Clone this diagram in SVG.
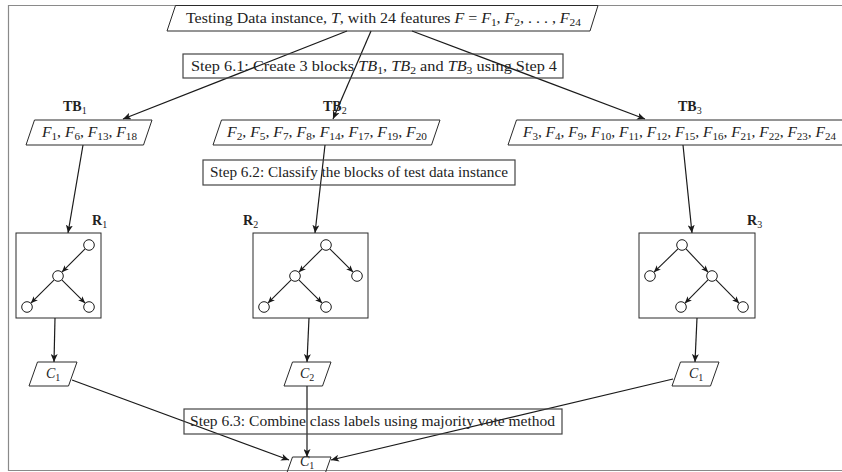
<svg xmlns="http://www.w3.org/2000/svg" width="842" height="472" viewBox="0 0 842 472">
  <defs>
    <marker id="arr" markerUnits="userSpaceOnUse" markerWidth="9" markerHeight="7" refX="8" refY="3.5" orient="auto">
      <path d="M0,0 L8,3.5 L0,7 L2,3.5 z" fill="#1a1a1a"/>
    </marker>
    <marker id="arr-s" markerUnits="userSpaceOnUse" markerWidth="8" markerHeight="6" refX="7" refY="3" orient="auto">
      <path d="M0,0 L7,3 L0,6 L1.8,3 z" fill="#1a1a1a"/>
    </marker>
  </defs>
  <style>
    .frame { fill: none; stroke: #8a8a8a; stroke-width: 1.2; }
    .shape { fill: none; stroke: #2a2a2a; stroke-width: 1; }
    .step { fill: none; stroke: #444; stroke-width: 1.2; }
    .conn { fill: none; stroke: #1a1a1a; stroke-width: 1.2; marker-end: url(#arr); }
    .edge { fill: none; stroke: #1a1a1a; stroke-width: 1.1; marker-end: url(#arr-s); }
    .node { fill: #fff; stroke: #1a1a1a; stroke-width: 1; }
    text { font-family: "Liberation Serif", "DejaVu Serif", serif; font-size: 14px; fill: #222; }
    .it { font-style: italic; }
    .bf { font-weight: bold; }
  </style>

  <!-- outer frame (left, top, bottom rules) -->
  <path class="frame" d="M842,5.5 H8.5 V470.5 H842"/>

  <!-- connectors -->
  <g id="connectors">
    <line class="conn" x1="347" y1="31" x2="123" y2="119"/>
    <line class="conn" x1="371" y1="31" x2="333" y2="119"/>
    <line class="conn" x1="412" y1="31" x2="645" y2="119"/>
    <line class="conn" x1="83" y1="145" x2="68" y2="233"/>
    <line class="conn" x1="325" y1="145" x2="315" y2="233"/>
    <line class="conn" x1="683" y1="145" x2="692" y2="233"/>
    <line class="conn" x1="55" y1="318" x2="54" y2="362"/>
    <line class="conn" x1="309" y1="318" x2="307" y2="362"/>
    <line class="conn" x1="697" y1="318" x2="695" y2="362"/>
    <line class="conn" x1="307" y1="386" x2="307" y2="457"/>
    <line class="conn" x1="72" y1="380" x2="289" y2="460"/>
    <line class="conn" x1="673" y1="379" x2="331" y2="460"/>
  </g>

  <!-- test instance -->
  <g id="instance">
    <path class="shape" d="M167,31 L175.5,5.5 L598,5.5 L590,31 Z"/>
    <text x="186" y="23" textLength="395" lengthAdjust="spacingAndGlyphs">Testing Data instance, <tspan class="it">T</tspan>, with 24 features <tspan class="it">F</tspan> = <tspan class="it">F</tspan><tspan font-size="10" dy="3">1</tspan><tspan dy="-3">, </tspan><tspan class="it">F</tspan><tspan font-size="10" dy="3">2</tspan><tspan dy="-3">, . . . , </tspan><tspan class="it">F</tspan><tspan font-size="10" dy="3">24</tspan></text>
  </g>

  <!-- step 6.1 -->
  <g id="step61">
    <rect class="step" x="183" y="54" width="380" height="24"/>
    <text x="191" y="71" textLength="366" lengthAdjust="spacingAndGlyphs">Step 6.1: Create 3 blocks <tspan class="it">TB</tspan><tspan font-size="10" dy="3">1</tspan><tspan dy="-3">, </tspan><tspan class="it">TB</tspan><tspan font-size="10" dy="3">2</tspan><tspan dy="-3"> and </tspan><tspan class="it">TB</tspan><tspan font-size="10" dy="3">3</tspan><tspan dy="-3"> using Step 4</tspan></text>
  </g>

  <!-- block TB1 -->
  <g id="tb1">
    <text class="bf" x="63" y="111">TB<tspan font-size="10" font-weight="normal" dy="3">1</tspan></text>
    <path class="shape" d="M26,145 L34.5,120 L152,120 L143.5,145 Z"/>
    <text x="42" y="137" textLength="95" lengthAdjust="spacingAndGlyphs"><tspan class="it">F</tspan><tspan font-size="10" dy="3">1</tspan><tspan dy="-3">, </tspan><tspan class="it">F</tspan><tspan font-size="10" dy="3">6</tspan><tspan dy="-3">, </tspan><tspan class="it">F</tspan><tspan font-size="10" dy="3">13</tspan><tspan dy="-3">, </tspan><tspan class="it">F</tspan><tspan font-size="10" dy="3">18</tspan></text>
  </g>

  <!-- block TB2 -->
  <g id="tb2">
    <text class="bf" x="323" y="111">TB<tspan font-size="10" font-weight="normal" dy="3">2</tspan></text>
    <path class="shape" d="M213,145 L221.5,120 L440,120 L431.5,145 Z"/>
    <text x="227" y="137" textLength="200" lengthAdjust="spacingAndGlyphs"><tspan class="it">F</tspan><tspan font-size="10" dy="3">2</tspan><tspan dy="-3">, </tspan><tspan class="it">F</tspan><tspan font-size="10" dy="3">5</tspan><tspan dy="-3">, </tspan><tspan class="it">F</tspan><tspan font-size="10" dy="3">7</tspan><tspan dy="-3">, </tspan><tspan class="it">F</tspan><tspan font-size="10" dy="3">8</tspan><tspan dy="-3">, </tspan><tspan class="it">F</tspan><tspan font-size="10" dy="3">14</tspan><tspan dy="-3">, </tspan><tspan class="it">F</tspan><tspan font-size="10" dy="3">17</tspan><tspan dy="-3">, </tspan><tspan class="it">F</tspan><tspan font-size="10" dy="3">19</tspan><tspan dy="-3">, </tspan><tspan class="it">F</tspan><tspan font-size="10" dy="3">20</tspan></text>
  </g>

  <!-- block TB3 -->
  <g id="tb3">
    <text class="bf" x="678" y="111">TB<tspan font-size="10" font-weight="normal" dy="3">3</tspan></text>
    <path class="shape" d="M508,145 L516.5,120 L852,120 L843.5,145 Z"/>
    <text x="523" y="137" textLength="313" lengthAdjust="spacingAndGlyphs"><tspan class="it">F</tspan><tspan font-size="10" dy="3">3</tspan><tspan dy="-3">, </tspan><tspan class="it">F</tspan><tspan font-size="10" dy="3">4</tspan><tspan dy="-3">, </tspan><tspan class="it">F</tspan><tspan font-size="10" dy="3">9</tspan><tspan dy="-3">, </tspan><tspan class="it">F</tspan><tspan font-size="10" dy="3">10</tspan><tspan dy="-3">, </tspan><tspan class="it">F</tspan><tspan font-size="10" dy="3">11</tspan><tspan dy="-3">, </tspan><tspan class="it">F</tspan><tspan font-size="10" dy="3">12</tspan><tspan dy="-3">, </tspan><tspan class="it">F</tspan><tspan font-size="10" dy="3">15</tspan><tspan dy="-3">, </tspan><tspan class="it">F</tspan><tspan font-size="10" dy="3">16</tspan><tspan dy="-3">, </tspan><tspan class="it">F</tspan><tspan font-size="10" dy="3">21</tspan><tspan dy="-3">, </tspan><tspan class="it">F</tspan><tspan font-size="10" dy="3">22</tspan><tspan dy="-3">, </tspan><tspan class="it">F</tspan><tspan font-size="10" dy="3">23</tspan><tspan dy="-3">, </tspan><tspan class="it">F</tspan><tspan font-size="10" dy="3">24</tspan></text>
  </g>

  <!-- step 6.2 -->
  <g id="step62">
    <rect class="step" x="203" y="160" width="312" height="25"/>
    <text x="210" y="177" textLength="298" lengthAdjust="spacingAndGlyphs">Step 6.2: Classify the blocks of test data instance</text>
  </g>

  <!-- classifier R1 -->
  <g id="r1">
    <text class="bf" x="92" y="225">R<tspan font-size="10" font-weight="normal" dy="3">1</tspan></text>
    <rect class="shape" x="16" y="233" width="85" height="85"/>
    <line class="edge" x1="85.3" y1="248.7" x2="61.8" y2="272.2"/>
    <line class="edge" x1="54.2" y1="279.8" x2="30.8" y2="303.2"/>
    <line class="edge" x1="61.8" y1="279.8" x2="85.2" y2="303.2"/>
    <circle class="node" cx="89" cy="245" r="5.3"/>
    <circle class="node" cx="58" cy="276" r="5.3"/>
    <circle class="node" cx="27" cy="307" r="5.3"/>
    <circle class="node" cx="89" cy="307" r="5.3"/>
  </g>

  <!-- classifier R2 -->
  <g id="r2">
    <text class="bf" x="243" y="225">R<tspan font-size="10" font-weight="normal" dy="3">2</tspan></text>
    <rect class="shape" x="253" y="233" width="115" height="85"/>
    <line class="edge" x1="322.2" y1="248.8" x2="298.8" y2="272.2"/>
    <line class="edge" x1="329.8" y1="248.8" x2="353.2" y2="272.2"/>
    <line class="edge" x1="291.2" y1="279.8" x2="267.8" y2="303.2"/>
    <line class="edge" x1="298.8" y1="279.8" x2="322.2" y2="303.2"/>
    <circle class="node" cx="326" cy="245" r="5.3"/>
    <circle class="node" cx="295" cy="276" r="5.3"/>
    <circle class="node" cx="357" cy="276" r="5.3"/>
    <circle class="node" cx="264" cy="307" r="5.3"/>
    <circle class="node" cx="326" cy="307" r="5.3"/>
  </g>

  <!-- classifier R3 -->
  <g id="r3">
    <text class="bf" x="747" y="225">R<tspan font-size="10" font-weight="normal" dy="3">3</tspan></text>
    <rect class="shape" x="639" y="233" width="116" height="85"/>
    <line class="edge" x1="678.2" y1="248.7" x2="653.8" y2="272.3"/>
    <line class="edge" x1="685.8" y1="248.7" x2="708.2" y2="272.3"/>
    <line class="edge" x1="708.2" y1="279.7" x2="684.8" y2="303.3"/>
    <line class="edge" x1="715.8" y1="279.7" x2="739.2" y2="303.3"/>
    <circle class="node" cx="682" cy="245" r="5.3"/>
    <circle class="node" cx="650" cy="276" r="5.3"/>
    <circle class="node" cx="712" cy="276" r="5.3"/>
    <circle class="node" cx="681" cy="307" r="5.3" stroke-width="1.6"/>
    <circle class="node" cx="743" cy="307" r="5.3"/>
  </g>

  <!-- class outputs -->
  <g id="c1-left">
    <path class="shape" d="M29,386 L37.5,362 L77,362 L68.5,386 Z"/>
    <text class="it" x="46" y="378">C<tspan font-size="10" font-style="normal" dy="3">1</tspan></text>
  </g>
  <g id="c2">
    <path class="shape" d="M284,386 L292.5,362 L331,362 L322.5,386 Z"/>
    <text class="it" x="300" y="378">C<tspan font-size="10" font-style="normal" dy="3">2</tspan></text>
  </g>
  <g id="c1-right">
    <path class="shape" d="M672,386 L680.5,362 L719,362 L710.5,386 Z"/>
    <text class="it" x="689" y="378">C<tspan font-size="10" font-style="normal" dy="3">1</tspan></text>
  </g>

  <!-- step 6.3 -->
  <g id="step63">
    <rect class="step" x="184" y="409" width="378" height="25"/>
    <text x="190" y="426" textLength="365" lengthAdjust="spacingAndGlyphs">Step 6.3: Combine class labels using majority vote method</text>
  </g>

  <!-- final label -->
  <g id="c-final">
    <path class="shape" d="M284,481 L292.5,457 L331,457 L322.5,481 Z"/>
    <text class="it" x="300" y="466">C<tspan font-size="10" font-style="normal" dy="2.5">1</tspan></text>
  </g>
</svg>
